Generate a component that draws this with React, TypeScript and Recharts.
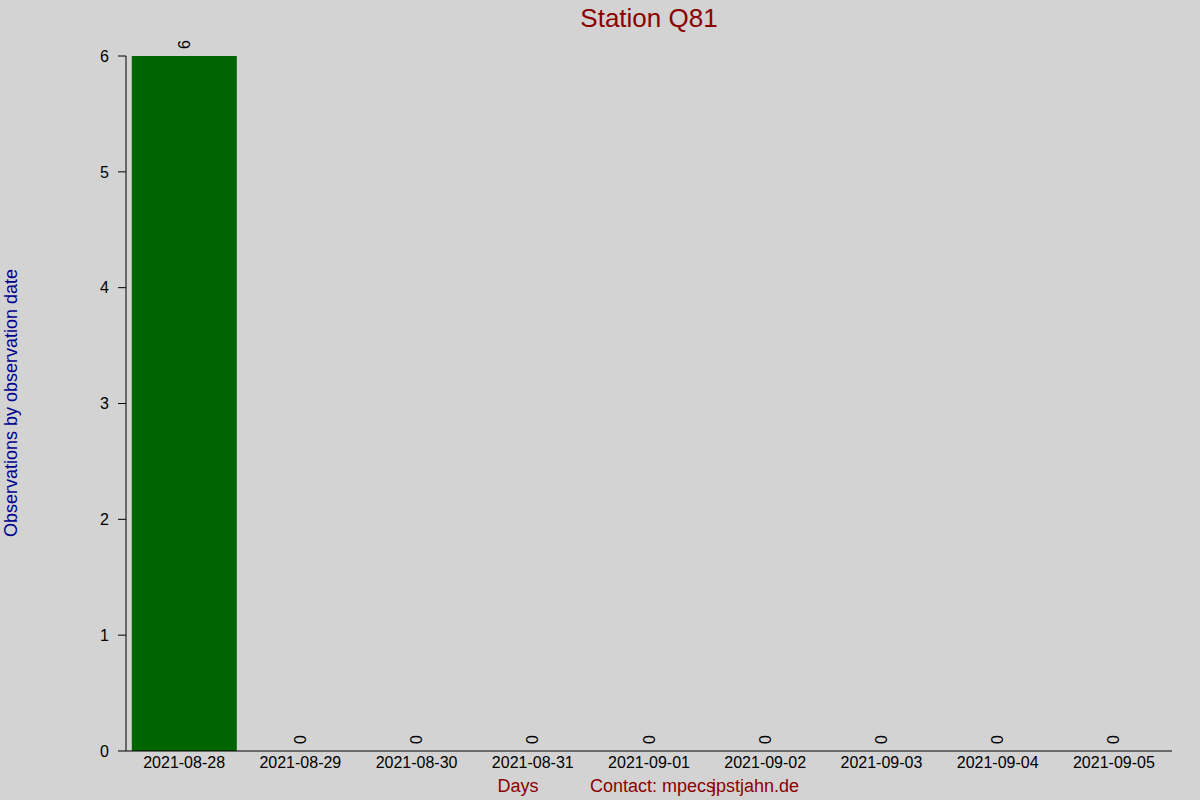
import React from 'react'
import { ComposedChart, Bar, Line, XAxis, YAxis, LabelList } from 'recharts'

const days = [
  '2021-08-28',
  '2021-08-29',
  '2021-08-30',
  '2021-08-31',
  '2021-09-01',
  '2021-09-02',
  '2021-09-03',
  '2021-09-04',
  '2021-09-05',
]
const observations = [6, 0, 0, 0, 0, 0, 0, 0, 0]
const yTicks = [0, 1, 2, 3, 4, 5, 6]

const FONT = '"Liberation Sans", Arial, Helvetica, sans-serif'

const data = days.map((day, i) => ({ day, count: observations[i] }))

// value label, rotated, sitting just above the bar top
// (drawn from an invisible line so zero bars get one too)
function ValueLabel(props: any) {
  const { x, y, value } = props
  const ty = y - 7
  return (
    <text
      x={x}
      y={ty}
      transform={`rotate(-90, ${x}, ${ty})`}
      textAnchor="start"
      dominantBaseline="central"
      fontSize={16}
      fontFamily={FONT}
      fill="#000"
    >
      {value}
    </text>
  )
}

export default function App() {
  return (
    <div
      style={{
        position: 'absolute',
        left: 0,
        top: 0,
        width: 1200,
        height: 800,
        background: '#d3d3d3',
        fontFamily: FONT,
      }}
    >
      <ComposedChart
        width={1200}
        height={800}
        data={data}
        margin={{ top: 56, right: 28, bottom: 0, left: 0 }}
        barCategoryGap="5%"
      >
        <XAxis
          dataKey="day"
          height={49}
          stroke="#000"
          tickLine={false}
          tickSize={0}
          tickMargin={6}
          axisLine={{ stroke: '#000' }}
          tick={{ fontSize: 16, fill: '#000', fontFamily: FONT }}
          interval={0}
        />
        <YAxis
          width={126}
          domain={[0, 6]}
          ticks={yTicks}
          stroke="#000"
          tickSize={8}
          tickMargin={9}
          axisLine={{ stroke: '#000' }}
          tickLine={{ stroke: '#000' }}
          tick={{ fontSize: 16, fill: '#000', fontFamily: FONT }}
          allowDecimals={false}
        />
        <Bar dataKey="count" fill="#006400" isAnimationActive={false} />
        <Line
          dataKey="count"
          stroke="none"
          dot={false}
          activeDot={false}
          isAnimationActive={false}
        >
          <LabelList dataKey="count" content={ValueLabel} />
        </Line>
      </ComposedChart>
      <svg
        width={1200}
        height={800}
        style={{ position: 'absolute', left: 0, top: 0, pointerEvents: 'none' }}
      >
        <text x={649} y={27} textAnchor="middle" fontSize={26} fill="#8b0000" fontFamily={FONT}>
          Station Q81
        </text>
        <text
          x={17}
          y={403}
          transform="rotate(-90, 17, 403)"
          textAnchor="middle"
          fontSize={18}
          fill="#00008b"
          fontFamily={FONT}
        >
          Observations by observation date
        </text>
        <text x={518} y={792} textAnchor="middle" fontSize={18} fill="#8b0000" fontFamily={FONT}>
          Days
        </text>
        <text x={590} y={792} textAnchor="start" fontSize={18} fill="#8b0000" fontFamily={FONT}>
          Contact: mpecs
          <tspan dx={-3}>jpstjahn.de</tspan>
        </text>
      </svg>
    </div>
  )
}
